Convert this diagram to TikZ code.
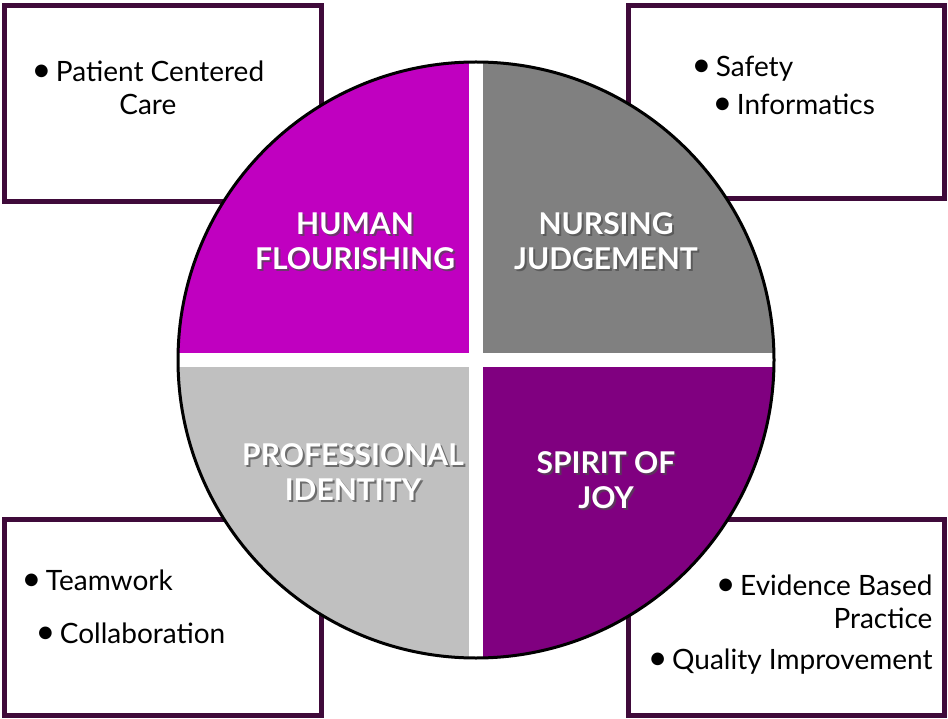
\documentclass[tikz,border=0pt]{standalone}
\usepackage{fontspec}
\setmainfont{Lato}
\begin{document}
\begin{tikzpicture}[x=1pt,y=-1pt,
  box/.style={draw=boxc,line width=5pt,fill=white},
  lbl/.style={font=\fontsize{30}{35}\selectfont\bfseries,text=white,align=center},
  shd/.style={font=\fontsize{30}{35}\selectfont\bfseries,text=black!70,align=center,opacity=0.7},
  itm/.style={font=\fontsize{28}{33}\selectfont,align=right,anchor=west}]
\definecolor{boxc}{HTML}{3F0A3A}
\definecolor{qa}{HTML}{C000C0}
\definecolor{qb}{HTML}{808080}
\definecolor{qc}{HTML}{C0C0C0}
\definecolor{qd}{HTML}{800080}
\newcommand{\bul}{{\fontsize{34}{33}\selectfont\textbullet}}
\useasboundingbox (0,0) rectangle (948,719);
\fill[white] (0,0) rectangle (948,719);
\draw[box] (4,6) rectangle (321,202);
\draw[box] (628,6) rectangle (944,199);
\draw[box] (4,519) rectangle (321,715);
\draw[box] (628,519) rectangle (944,715);
\coordinate (c) at (476,360);
\fill[white] (c) circle (298);
\begin{scope}
\clip (c) circle (298);
\fill[qa] (170,50) rectangle (469,353);
\fill[qb] (483,50) rectangle (780,353);
\fill[qc] (170,367) rectangle (469,670);
\fill[qd] (483,367) rectangle (780,670);
\end{scope}
\draw[line width=3pt,black] (c) circle (298);
\foreach \p/\t in {{355,241}/{HUMAN\\FLOURISHING},{606,241}/{NURSING\\JUDGEMENT},{353,472}/{PROFESSIONAL\\IDENTITY},{606,480}/{SPIRIT OF\\JOY}}{
  \node[shd] at ([shift={(2,2)}]\p) {\t};
  \node[lbl] at (\p) {\t};}
\node[itm,align=center] (t1) at (28,88) {\bul\,Patient Centered\\Care};
\node[itm] (t2) at (688,69) {\bul\,Safety};
\node[itm] (t3) at (709,104) {\bul\,Informatics};
\node[itm] (t4) at (18,580) {\bul\,Teamwork};
\node[itm] (t5) at (32,633) {\bul\,Collaboration};
\node[itm,anchor=east] (t6) at (936,602) {\bul\,Evidence Based\\Practice};
\node[itm,anchor=east] (t7) at (936,662) {\bul\,Quality Improvement};
\end{tikzpicture}
\end{document}
